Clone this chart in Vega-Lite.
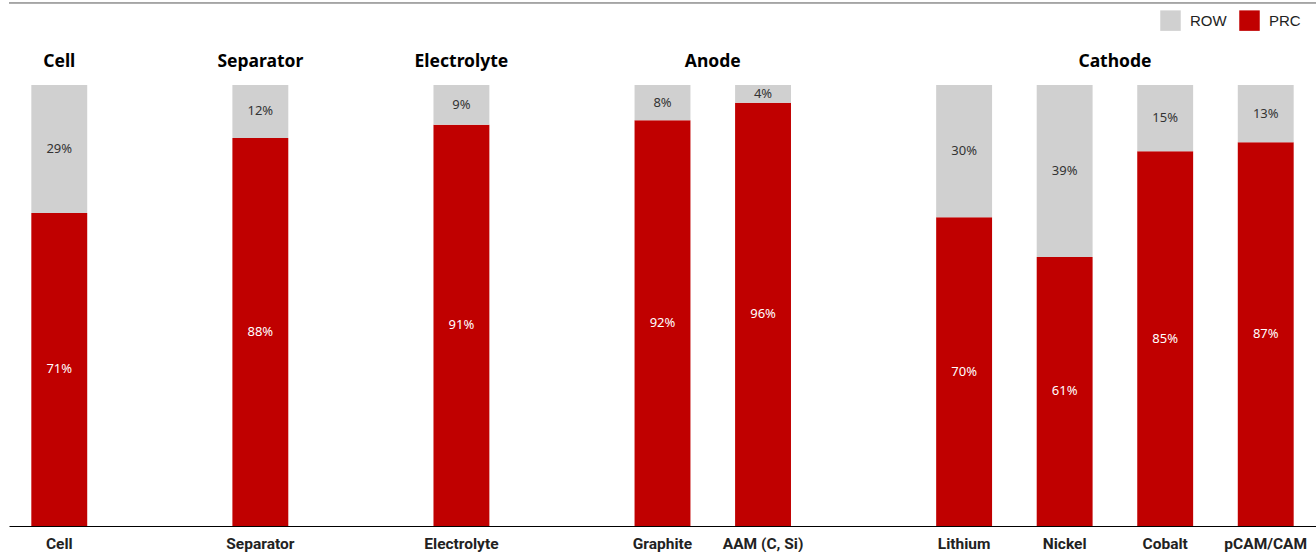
{
  "$schema": "https://vega.github.io/schema/vega-lite/v6.json",
  "autosize": {"type": "none"},
  "width": 1307,
  "height": 441,
  "padding": {"left": 9, "top": 85, "right": 0, "bottom": 26},
  "background": "white",
  "config": {"view": {"stroke": null}},
  "datasets": {
    "shares": [
      {"item": "Cell", "region": "PRC", "share": 0.71},
      {"item": "Cell", "region": "ROW", "share": 0.29},
      {"item": "Separator", "region": "PRC", "share": 0.88},
      {"item": "Separator", "region": "ROW", "share": 0.12},
      {"item": "Electrolyte", "region": "PRC", "share": 0.91},
      {"item": "Electrolyte", "region": "ROW", "share": 0.09},
      {"item": "Graphite", "region": "PRC", "share": 0.92},
      {"item": "Graphite", "region": "ROW", "share": 0.08},
      {"item": "AAM (C, Si)", "region": "PRC", "share": 0.96},
      {"item": "AAM (C, Si)", "region": "ROW", "share": 0.04},
      {"item": "Lithium", "region": "PRC", "share": 0.70},
      {"item": "Lithium", "region": "ROW", "share": 0.30},
      {"item": "Nickel", "region": "PRC", "share": 0.61},
      {"item": "Nickel", "region": "ROW", "share": 0.39},
      {"item": "Cobalt", "region": "PRC", "share": 0.85},
      {"item": "Cobalt", "region": "ROW", "share": 0.15},
      {"item": "pCAM/CAM", "region": "PRC", "share": 0.87},
      {"item": "pCAM/CAM", "region": "ROW", "share": 0.13}
    ]
  },
  "layer": [
    {
      "data": {"name": "shares"},
      "mark": {"type": "bar"},
      "encoding": {
        "x": {
          "field": "item", "type": "nominal", "title": null,
          "scale": {
            "domain": ["Cell", "_a", "Separator", "_b", "Electrolyte", "_c", "Graphite", "AAM (C, Si)", "_d", "Lithium", "Nickel", "Cobalt", "pCAM/CAM"],
            "paddingInner": 0.444, "paddingOuter": 0.222
          },
          "axis": {
            "labelExpr": "indexof(datum.label, '_') == 0 ? '' : datum.label",
            "labelAngle": 0, "ticks": false, "grid": false,
            "domainColor": "#000000", "domainWidth": 1,
            "labelFont": "Roboto, sans-serif",
            "labelFontSize": 15.5, "labelFontWeight": "bold", "labelColor": "#222222",
            "labelPadding": 10
          }
        },
        "y": {
          "field": "share", "type": "quantitative", "stack": "zero",
          "scale": {"domain": [0, 1]}, "axis": null
        },
        "order": {"field": "region", "sort": "ascending"},
        "color": {
          "field": "region", "type": "nominal",
          "scale": {"domain": ["ROW", "PRC"], "range": ["#D0D0D0", "#C00000"]},
          "legend": {
            "title": null, "orient": "none", "direction": "horizontal",
            "legendX": 1151, "legendY": -75,
            "symbolType": "square", "symbolSize": 420, "symbolStrokeWidth": 0,
            "labelFont": "Liberation Sans, Arial, sans-serif", "labelFontSize": 15,
            "labelColor": "#222222", "columnPadding": 12, "labelOffset": 9
          }
        }
      }
    },
    {
      "data": {"name": "shares"},
      "transform": [
        {"stack": "share", "groupby": ["item"], "sort": [{"field": "region", "order": "ascending"}], "as": ["s0", "s1"]},
        {"calculate": "(datum.s0 + datum.s1) / 2", "as": "mid"}
      ],
      "mark": {"type": "text", "font": "Noto Sans, DejaVu Sans, sans-serif", "fontSize": 13, "baseline": "middle"},
      "encoding": {
        "x": {"field": "item", "type": "nominal"},
        "y": {"field": "mid", "type": "quantitative"},
        "text": {"field": "share", "type": "quantitative", "format": ".0%"},
        "color": {"condition": {"test": "datum.region == 'PRC'", "value": "#FFFFFF"}, "value": "#333333"}
      }
    },
    {
      "data": {"values": [
        {"item": "Cell", "group": "Cell"},
        {"item": "Separator", "group": "Separator"},
        {"item": "Electrolyte", "group": "Electrolyte"}
      ]},
      "mark": {"type": "text", "font": "Noto Sans, Open Sans, sans-serif", "fontSize": 17.5, "fontWeight": "bold", "color": "#000000", "baseline": "middle"},
      "encoding": {
        "x": {"field": "item", "type": "nominal", "bandPosition": 0.5},
        "y": {"datum": 1.052},
        "text": {"field": "group"}
      }
    },
    {
      "data": {"values": [
        {"item": "Graphite", "group": "Anode"},
        {"item": "Nickel", "group": "Cathode"}
      ]},
      "mark": {"type": "text", "font": "Noto Sans, Open Sans, sans-serif", "fontSize": 17.5, "fontWeight": "bold", "color": "#000000", "baseline": "middle"},
      "encoding": {
        "x": {"field": "item", "type": "nominal", "bandPosition": 1.4},
        "y": {"datum": 1.052},
        "text": {"field": "group"}
      }
    },
    {
      "data": {"values": [{}]},
      "mark": {"type": "rule", "color": "#555555", "strokeWidth": 1},
      "encoding": {"y": {"datum": 1.186}}
    }
  ]
}
